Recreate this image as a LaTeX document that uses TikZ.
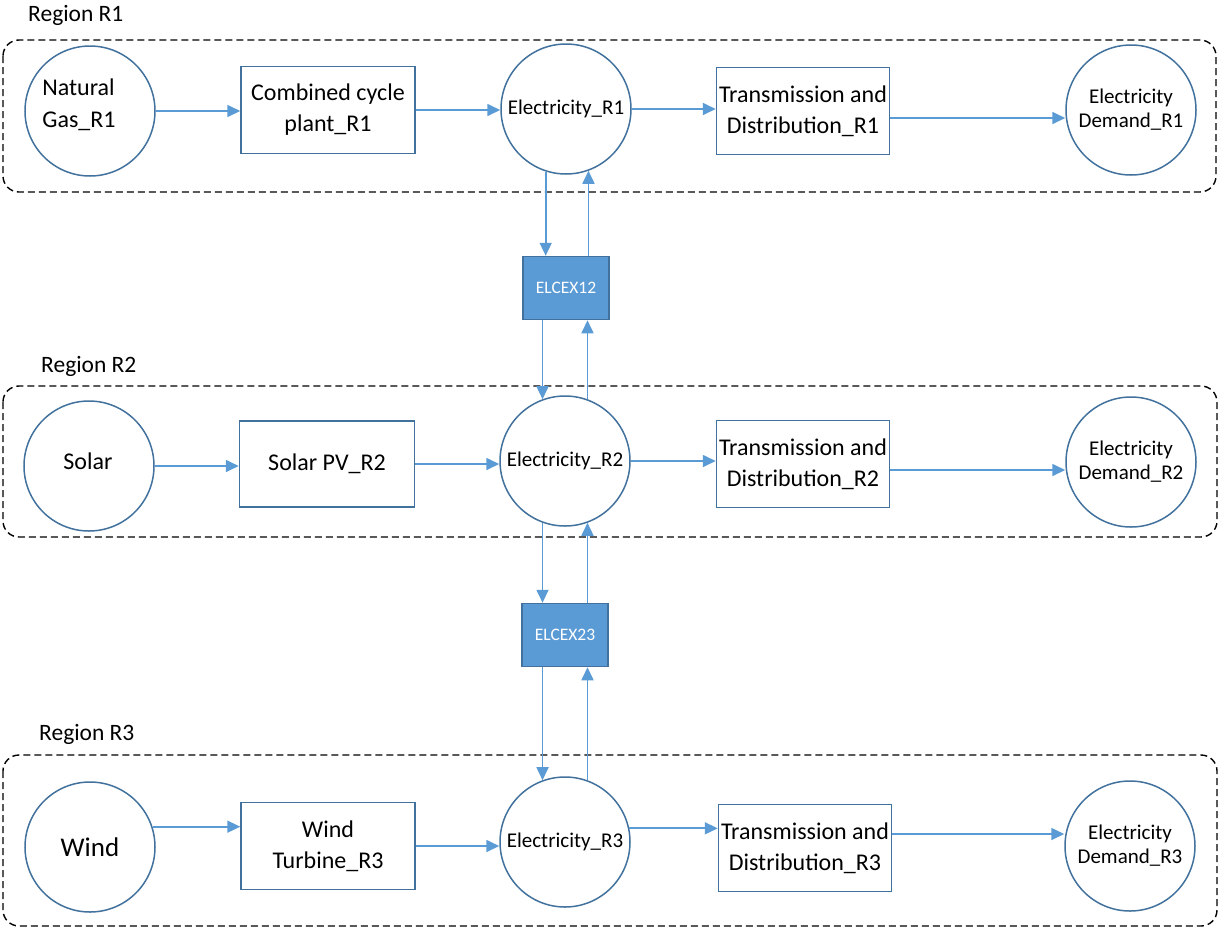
\documentclass[tikz,border=0pt]{standalone}
\usepackage{fontspec}
\setmainfont{Carlito}
\usetikzlibrary{arrows.meta,calc}
\definecolor{outl}{HTML}{41719C}
\definecolor{arrc}{HTML}{5B9BD5}
\begin{document}
\begin{tikzpicture}[x=1pt,y=-1pt,
  circ/.style={circle,draw=outl,line width=1.5pt,minimum size=130pt,inner sep=0pt,align=center},
  boxn/.style={rectangle,draw=outl,line width=1.5pt,minimum width=174pt,minimum height=87pt,inner sep=0pt,align=center,font=\fontsize{24}{31}\selectfont},
  exbox/.style={rectangle,draw=outl,fill=arrc,line width=1.5pt,minimum width=86pt,minimum height=63pt,inner sep=0pt,text=white,font=\fontsize{17.5}{20}\selectfont},
  arr/.style={draw=arrc,line width=1.7pt,-{Triangle[length=13pt,width=12pt]}},
  region/.style={draw=black,line width=1.4pt,dash pattern=on 7pt off 4pt,rounded corners=16pt},
  rlabel/.style={anchor=base west,inner sep=0pt,font=\fontsize{23.5}{28}\selectfont},
  etxt/.style={font=\fontsize{21}{24}\selectfont},
  bigtxt/.style={font=\fontsize{24}{32}\selectfont}
]
\useasboundingbox (0,0) rectangle (1219,930);

% regions
\draw[region] (3,40) rectangle (1216,192);
\draw[region] (3,386) rectangle (1217,537);
\draw[region] (3,755) rectangle (1217,926);
\node[rlabel] (lr1) at (28,21) {Region R1};
\node[rlabel] (lr2) at (41,372) {Region R2};
\node[rlabel] (lr3) at (39,740) {Region R3};

% region 1
\node[circ] (ng) at (90,111) {};
\node[bigtxt,align=left,inner sep=0pt] (ngtxt) at (79,105) {Natural\\Gas\_R1};
\node[boxn] (ccp) at (328,110) {Combined cycle\\plant\_R1};
\node[circ,etxt] (e1) at (566,109) {Electricity\_R1};
\node[boxn,minimum width=173pt] (td1) at (803,111) {Transmission and\\Distribution\_R1};
\node[circ,etxt] (d1) at (1131,110) {Electricity\\Demand\_R1};
\node[exbox] (x12) at (566,288) {ELCEX12};

% region 2
\node[circ] (solar) at (89,466) {};
\node[bigtxt,inner sep=0pt] (solartxt) at (88,461) {Solar};
\node[boxn,minimum width=175pt,minimum height=86pt] (spv) at (327,464) {Solar PV\_R2};
\node[circ,etxt] (e2) at (565,461) {Electricity\_R2};
\node[boxn,minimum width=173pt] (td2) at (803,464) {Transmission and\\Distribution\_R2};
\node[circ,etxt] (d2) at (1131,462) {Electricity\\Demand\_R2};
\node[exbox] (x23) at (565,635) {ELCEX23};

% region 3
\node[circ,font=\fontsize{27}{32}\selectfont] (wind) at (90,847) {Wind};
\node[boxn] (wt) at (328,846) {Wind\\Turbine\_R3};
\node[circ,etxt] (e3) at (565,842) {Electricity\_R3};
\node[boxn,minimum width=173pt] (td3) at (805,848) {Transmission and\\Distribution\_R3};
\node[circ,etxt] (d3) at (1130,846) {Electricity\\Demand\_R3};

% horizontal flows, region 1
\draw[arr] (ng.east) -- (ng.east -| ccp.west);
\draw[arr] (ccp.east) -- (ccp.east -| e1.west);
\draw[arr] (e1.east) -- (e1.east -| td1.west);
\coordinate (t1o) at ($(td1.east)+(0,7)$);
\draw[arr] (t1o) -- (t1o -| d1.west);

% horizontal flows, region 2
\draw[arr] (solar.east) -- (solar.east -| spv.west);
\draw[arr] (spv.east) -- (spv.east -| e2.west);
\draw[arr] (e2.east) -- (e2.east -| td2.west);
\coordinate (t2o) at ($(td2.east)+(0,6)$);
\draw[arr] (t2o) -- (t2o -| d2.west);

% horizontal flows, region 3
\draw[arr] (wind.18) -- (wind.18 -| wt.west);
\draw[arr] (wt.east) -- (wt.east -| e3.west);
\draw[arr] (e3.12) -- (e3.12 -| td3.west);
\coordinate (t3o) at ($(td3.east)+(0,-14)$);
\draw[arr] (t3o) -- (t3o -| d3.west);

% exchanges R1 <-> R2
\draw[arr] (e1.-108) -- (e1.-108 |- x12.north);
\draw[arr] (x12.north -| e1.-70) -- (e1.-70);
\draw[arr] (e2.110 |- x12.south) -- (e2.110);
\draw[arr] (e2.70) -- (e2.70 |- x12.south);

% exchanges R2 <-> R3
\draw[arr] (e2.-110) -- (e2.-110 |- x23.north);
\draw[arr] (x23.north -| e2.-70) -- (e2.-70);
\draw[arr] (e3.110 |- x23.south) -- (e3.110);
\draw[arr] (e3.70) -- (e3.70 |- x23.south);
\end{tikzpicture}
\end{document}
